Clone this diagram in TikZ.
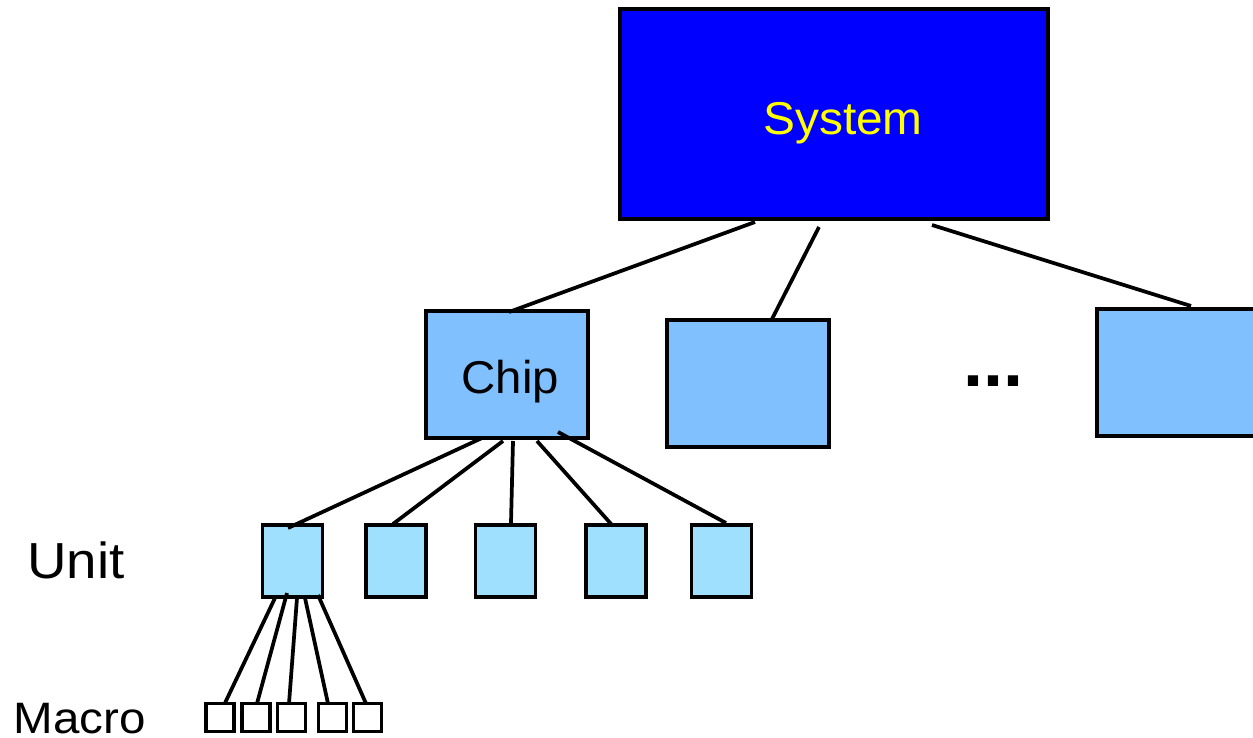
\documentclass[tikz,border=0pt]{standalone}
\usepackage{fontspec}
\setmainfont{Liberation Sans}
\definecolor{sysblue}{RGB}{0,0,255}
\definecolor{chipblue}{RGB}{128,192,255}
\definecolor{unitblue}{RGB}{160,224,255}
\definecolor{labelyellow}{RGB}{255,255,0}
\def\px{0.75pt}
\begin{document}
\begin{tikzpicture}[x=0.75pt,y=-0.75pt,
  box/.style={draw=black, line width=2.8pt, rectangle, inner sep=0pt, outer sep=0pt},
  sysbox/.style={box, anchor=north west, fill=sysblue, minimum width=428*\px, minimum height=210*\px},
  chipbox/.style={box, anchor=north west, fill=chipblue, minimum width=162*\px, minimum height=127*\px},
  unitbox/.style={box, anchor=center, fill=unitblue, minimum width=60*\px, minimum height=72*\px},
  macrobox/.style={box, anchor=center, fill=white, line width=2.6pt, minimum width=28*\px, minimum height=28*\px},
  wire/.style={line width=2.8pt},
  lbl/.style={anchor=base, inner sep=0pt, outer sep=0pt},
  bigtext/.style={lbl, font=\fontsize{34.5pt}{40pt}\selectfont},
]
\clip (0,0) rectangle (1253,738);

% hierarchy boxes
\node[sysbox] (sys) at (620,9) {};
\node[chipbox] (chip) at (426,311) {};
\node[chipbox] (b2) at (667,320) {};
\node[chipbox, minimum width=220*\px] (b3) at (1097,309) {};

\node[unitbox] (u1) at (292.5,561) {};
\node[unitbox] (u2) at (396,561) {};
\node[unitbox] (u3) at (505.5,561) {};
\node[unitbox] (u4) at (616,561) {};
\node[unitbox] (u5) at (721.5,561) {};

\node[macrobox] (m1) at (220,717.5) {};
\node[macrobox] (m2) at (256,717.5) {};
\node[macrobox] (m3) at (291.5,717.5) {};
\node[macrobox] (m4) at (332.5,717.5) {};
\node[macrobox] (m5) at (367.5,717.5) {};

% labels
\node[bigtext, text=labelyellow] (systxt) at (843,135) {\scalebox{1.04}[1]{System}};
\node[bigtext] (chiptxt) at (510.5,393) {\scalebox{1.03}[1]{Chip}};
\node[lbl, font=\fontsize{38pt}{44pt}\selectfont] (unittxt) at (76,578) {\scalebox{1.08}[1]{Unit}};
\node[lbl, font=\fontsize{33pt}{40pt}\selectfont] (macrotxt) at (80,733) {\scalebox{1.08}[1]{Macro}};
\node[lbl, font=\fontsize{54pt}{60pt}\selectfont\bfseries] (dots) at (993,386) {...};

% system to chips
\draw[wire] ([shift={(135,3)}]sys.south west) -- ([shift={(83,1)}]chip.north west);
\draw[wire] ([shift={(199,8)}]sys.south west) -- ([shift={(105,-1)}]b2.north west);
\draw[wire] ([shift={(312,6)}]sys.south west) -- ([shift={(94,-3)}]b3.north west);

% chip to units
\draw[wire] ([shift={(56,0)}]chip.south west) -- ([shift={(-4.5,3)}]u1.north);
\draw[wire] ([shift={(77,3)}]chip.south west) -- ([shift={(-3,-1)}]u2.north);
\draw[wire] ([shift={(87,3)}]chip.south west) -- ([shift={(5.5,-2)}]u3.north);
\draw[wire] ([shift={(111,3)}]chip.south west) -- ([shift={(-4,0)}]u4.north);
\draw[wire] ([shift={(132,-6)}]chip.south west) -- ([shift={(4.5,-2)}]u5.north);

% unit to macros
\draw[wire] ([shift={(-17.5,1)}]u1.south) -- ([shift={(5,-0.5)}]m1.north);
\draw[wire] ([shift={(-5.5,-4)}]u1.south) -- ([shift={(1,0)}]m2.north);
\draw[wire] ([shift={(4.5,1)}]u1.south) -- ([shift={(-2.5,0)}]m3.north);
\draw[wire] ([shift={(12.5,1)}]u1.south) -- ([shift={(-4.5,0)}]m4.north);
\draw[wire] ([shift={(25.5,-2)}]u1.south) -- ([shift={(-1.5,0)}]m5.north);
\end{tikzpicture}
\end{document}
